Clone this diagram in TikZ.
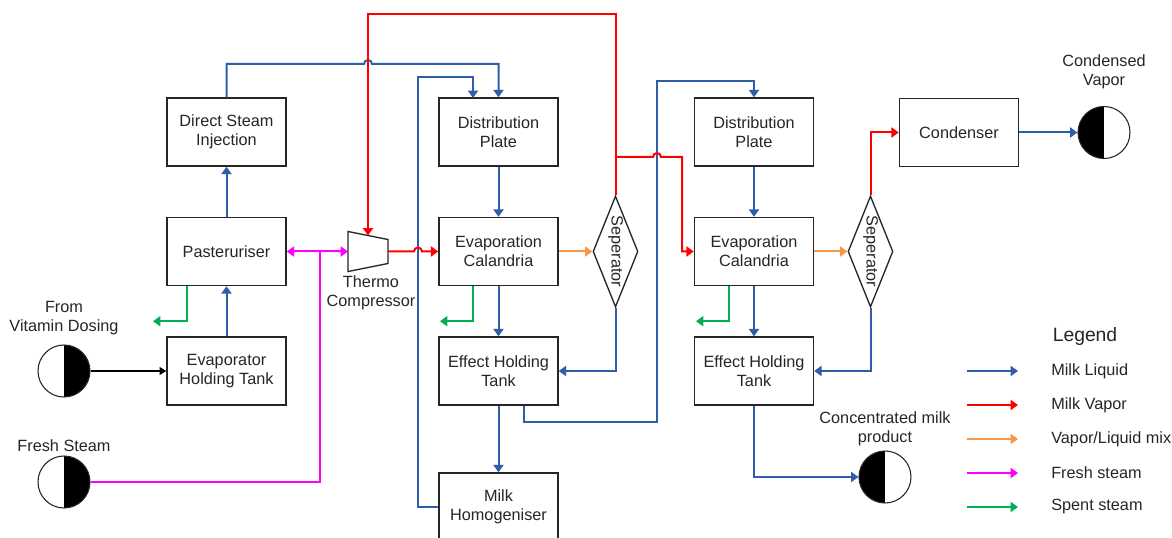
\documentclass[tikz,border=0pt]{standalone}
\usepackage{fontspec}
\setmainfont{Liberation Sans}
\usetikzlibrary{arrows.meta,shapes.geometric}

\definecolor{milk}{RGB}{46,94,170}
\definecolor{vapor}{RGB}{255,0,0}
\definecolor{mix}{RGB}{247,150,70}
\definecolor{fresh}{RGB}{255,0,255}
\definecolor{spent}{RGB}{0,176,80}
\definecolor{ink}{RGB}{38,38,38}

\begin{document}
\begin{tikzpicture}[x=0.75pt,y=-0.75pt,
  font=\fontsize{12.2}{14.25}\selectfont, text=ink,
  >={Triangle[length=5.5pt,width=7.5pt]},
  box/.style={draw=ink, line width=1.1pt, fill=white, minimum width=119*0.75pt,
    minimum height=68*0.75pt, align=center, inner sep=0pt},
  sep/.style={diamond, draw=ink, line width=1pt, minimum width=45*0.75pt,
    minimum height=111*0.75pt, inner sep=0pt},
  term/.style={circle, draw=ink, line width=0.8pt, minimum size=52*0.75pt,
    inner sep=0pt, fill=white},
  blackright/.style={term, path picture={\fill[black] (path picture bounding box.north)
    rectangle (path picture bounding box.south east);}},
  blackleft/.style={term, path picture={\fill[black] (path picture bounding box.north west)
    rectangle (path picture bounding box.south);}},
  flow/.style={line width=1.5pt, ->},
  milkline/.style={flow, draw=milk},
  vaporline/.style={flow, draw=vapor},
  mixline/.style={flow, draw=mix},
  freshline/.style={flow, draw=fresh},
  spentline/.style={flow, draw=spent},
  lbl/.style={align=center, inner sep=0pt},
]
\useasboundingbox (0,0) rectangle (1172,538);
\fill[white] (0,0) rectangle (1172,538);
\clip (0,0) rectangle (1172,538);

% ---- process units ----
\node[box] (dsi)  at (226.5,132)   {Direct Steam\\Injection};
\node[box] (past) at (226.5,251.5) {Pasteruriser};
\node[box] (eht0) at (226.5,371)   {Evaporator\\Holding Tank};

\node[box] (dp1)  at (498.5,132)   {Distribution\\Plate};
\node[box] (ec1)  at (498.5,251.5) {Evaporation\\Calandria};
\node[box] (eht1) at (498.5,371)   {Effect Holding\\Tank};
\node[box] (hom)  at (498.5,507)   {Milk\\Homogeniser};

\node[box] (dp2)  at (754,132)     {Distribution\\Plate};
\node[box] (ec2)  at (754,251.5)   {Evaporation\\Calandria};
\node[box] (eht2) at (754,371)     {Effect Holding\\Tank};

\node[box] (cond) at (959,132.5)   {Condenser};

\node[sep] (sep1) at (615.5,251.5) {};
\node[rotate=-90, inner sep=0pt] (sep1t) at (sep1) {Seperator};
\node[sep] (sep2) at (870.5,251.5) {};
\node[rotate=-90, inner sep=0pt] (sep2t) at (sep2) {Seperator};

% thermo compressor
\draw[draw=ink, line width=1pt, fill=white] (348,231.5) -- (388,239.5) -- (388,263.5) -- (348,271.5) -- cycle;
\coordinate (tcL) at (348,251.5);
\coordinate (tcR) at (388,251.5);
\coordinate (tcT) at (368,235.5);
\node[lbl] (tclbl) at (371,293) {Thermo\\Compressor};

% terminals
\node[blackright] (vit) at (64,371) {};
\node[lbl] (vitlbl) at (64,318) {From\\Vitamin Dosing};
\node[blackright] (fs) at (64,482) {};
\node[lbl] (fslbl) at (64,446) {Fresh Steam};
\node[blackleft] (cv) at (1104,132.5) {};
\node[lbl] (cvlbl) at (1104,72) {Condensed\\Vapor};
\node[blackleft] (cmp) at (885,477) {};
\node[lbl] (cmplbl) at (885,429) {Concentrated milk\\product};

% ---- milk liquid ----
\draw[milkline] (eht0.north) -- (past.south);
\draw[milkline] (past.north) -- (dsi.south);
\draw[milkline] (dsi.north) -- (226.5,64) -- (364,64)
  arc[start angle=180, end angle=360, radius=4] -- (498.5,64) -- (dp1.north);
\draw[milkline] (hom.west) -- (418,507) -- (418,77) -- (473,77) -- (473,98);
\draw[milkline] (dp1.south) -- (ec1.north);
\draw[milkline] (ec1.south) -- (eht1.north);
\draw[milkline] (eht1.south) -- (hom.north);
\draw[milkline] (sep1.south) -- (615.5,371) -- (eht1.east);
\draw[milkline] (eht1.south) ++(25.5,0) -- (524,422) -- (657,422) -- (657,81) -- (754,81) -- (dp2.north);
\draw[milkline] (dp2.south) -- (ec2.north);
\draw[milkline] (ec2.south) -- (eht2.north);
\draw[milkline] (sep2.south) -- (870.5,371) -- (eht2.east);
\draw[milkline] (eht2.south) |- (cmp.west);
\draw[milkline] (cond.east) -- (cv.west);

% ---- milk vapor ----
\draw[vaporline] (sep1.north) -- (615.5,14) -- (368,14) -- (tcT);
\draw[vaporline] (tcR) -- (414,251.5)
  arc[start angle=180, end angle=360, radius=4] -- (ec1.west);
\draw[vaporline] (615.5,157) -- (653,157)
  arc[start angle=180, end angle=360, radius=4] -- (682,157) -- (682,251.5) -- (ec2.west);
\draw[vaporline] (sep2.north) |- (cond.west);

% ---- vapor/liquid mix ----
\draw[mixline] (ec1.east) -- (sep1.west);
\draw[mixline] (ec2.east) -- (sep2.west);

% ---- fresh steam ----
\coordinate (fsj) at (320,251.5);
\draw[freshline, <->] (past.east) -- (tcL);
\draw[line width=1.5pt, draw=fresh] (fs.east) -| (fsj);

% ---- spent steam ----
\draw[spentline] (past.south) ++(-39.5,0) -- ++(0,35) -- ++(-34,0);
\draw[spentline] (ec1.south) ++(-25.5,0) -- ++(0,35) -- ++(-33,0);
\draw[spentline] (ec2.south) ++(-25,0) -- ++(0,35) -- ++(-33,0);

% ---- vitamin dosing ----
\draw[line width=0.8pt, draw=black, -{Triangle[length=5pt,width=6pt]}] (vit.east) -- (eht0.west);

% ---- legend ----
\node[font=\fontsize{14.5}{17}\selectfont] (legend) at (1085,337) {Legend};
\coordinate (l1a) at (967,371); \coordinate (l1b) at (1018,371);
\coordinate (l2a) at (967,405); \coordinate (l2b) at (1018,405);
\coordinate (l3a) at (967,439); \coordinate (l3b) at (1018,439);
\coordinate (l4a) at (967,473); \coordinate (l4b) at (1018,473);
\coordinate (l5a) at (967,507); \coordinate (l5b) at (1018,507);
\draw[milkline] (l1a) -- (l1b);
\draw[vaporline] (l2a) -- (l2b);
\draw[mixline] (l3a) -- (l3b);
\draw[freshline] (l4a) -- (l4b);
\draw[spentline] (l5a) -- (l5b);
\node[anchor=west, inner sep=0pt] (t1) at (1051,371) {Milk Liquid};
\node[anchor=west, inner sep=0pt] (t2) at (1051,405) {Milk Vapor};
\node[anchor=west, inner sep=0pt] (t3) at (1051,439) {Vapor/Liquid mix};
\node[anchor=west, inner sep=0pt] (t4) at (1051,473) {Fresh steam};
\node[anchor=west, inner sep=0pt] (t5) at (1051,507) {Spent steam};
\end{tikzpicture}
\end{document}
